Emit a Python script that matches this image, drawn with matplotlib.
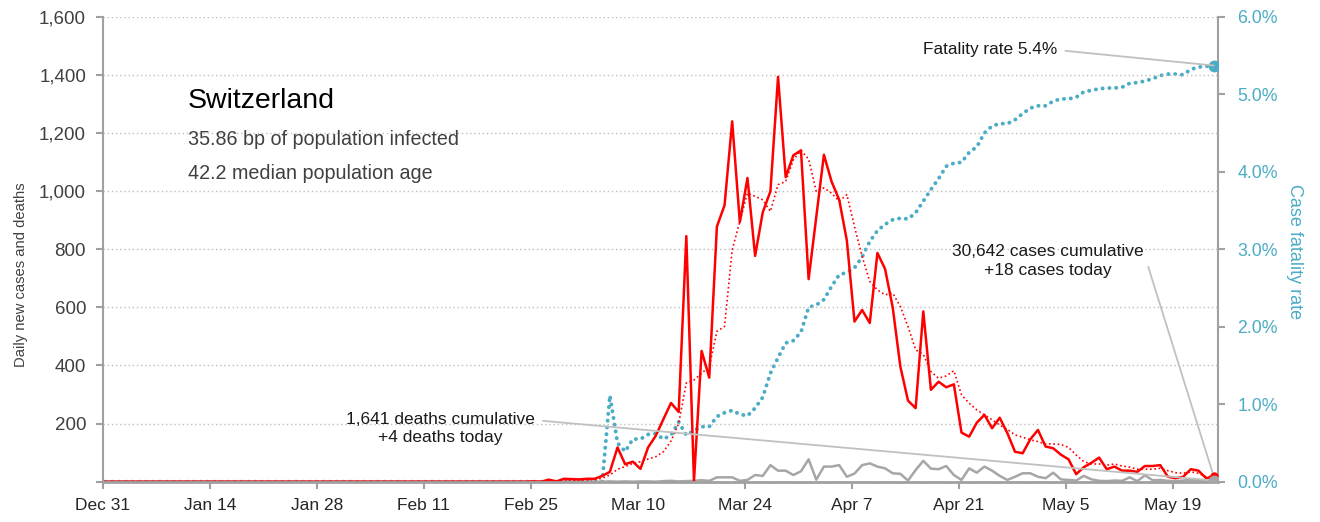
import numpy as np
import matplotlib
matplotlib.use("Agg")
import matplotlib.pyplot as plt
from matplotlib.ticker import FuncFormatter, FixedLocator

plt.rcParams['font.family'] = ['Liberation Sans', 'DejaVu Sans']

# ---------------- data (days counted from Dec 31, 2019) ----------------
pre_outbreak = [0] * 56          # Dec 31 .. Feb 24: flat at zero

cases = [1, 0, 7, 1, 10, 9, 8, 10, 10, 20,
         34, 118, 60, 69, 44, 118, 158, 215, 271, 240,
         845, 2, 450, 358, 878, 951, 1240, 893, 1045, 777,
         927, 999, 1393, 1048, 1123, 1140, 697, 910, 1125, 1033,
         970, 830, 551, 591, 546, 787, 732, 600, 396, 279,
         253, 586, 316, 344, 325, 335, 169, 155, 203, 230,
         184, 220, 167, 103, 98, 146, 178, 121, 115, 93,
         77, 26, 50, 65, 83, 43, 52, 38, 38, 34,
         54, 54, 57, 17, 12, 17, 43, 38, 12, 18]

cases_avg7 = [0, 0, 1, 1, 3, 4, 5, 6, 7, 12,
              23, 43, 52, 63, 69, 78, 86, 103, 140, 200,
              340, 350, 373, 396, 517, 534, 798, 896, 993, 982,
              970, 930, 1022, 1033, 1107, 1140, 1110, 999, 1011, 993,
              965, 988, 878, 775, 689, 660, 643, 649, 603, 534,
              454, 438, 379, 356, 364, 382, 299, 270, 247, 230,
              213, 195, 180, 161, 153, 144, 138, 130, 130, 128,
              118, 92, 69, 61, 61, 57, 61, 54, 50, 43,
              43, 43, 46, 38, 31, 29, 34, 29, 17, 20]

deaths = [0, 0, 0, 0, 0, 0, 0, 0, 0, 0,
          1, 0, 1, 0, 1, 1, 0, 2, 3, 1,
          2, 3, 5, 3, 15, 15, 15, 3, 6, 23,
          20, 57, 38, 38, 23, 36, 77, 7, 52, 52,
          57, 17, 28, 57, 63, 52, 46, 29, 27, 4,
          40, 72, 45, 43, 54, 23, 6, 46, 31, 52,
          38, 20, 6, 17, 29, 29, 17, 12, 31, 8,
          6, 4, 20, 8, 3, 2, 4, 3, 15, 2,
          22, 5, 6, 3, 2, 4, 7, 3, 1, 4]

fatality_pct = [0, 0, 0, 0, 0, 0, 0, 0, 0, 0,
                1.11, 0.50, 0.39, 0.55, 0.55, 0.61, 0.62, 0.55, 0.60, 0.77,
                0.60, 0.66, 0.71, 0.71, 0.84, 0.89, 0.92, 0.87, 0.85, 0.95,
                1.09, 1.40, 1.60, 1.79, 1.82, 1.93, 2.25, 2.28, 2.35, 2.52,
                2.67, 2.70, 2.76, 2.90, 3.10, 3.24, 3.32, 3.38, 3.40, 3.39,
                3.47, 3.62, 3.77, 3.91, 4.07, 4.11, 4.12, 4.25, 4.32, 4.50,
                4.59, 4.62, 4.62, 4.67, 4.75, 4.82, 4.85, 4.85, 4.91, 4.94,
                4.94, 4.96, 5.03, 5.05, 5.07, 5.08, 5.08, 5.09, 5.14, 5.15,
                5.17, 5.20, 5.24, 5.26, 5.26, 5.25, 5.32, 5.35, 5.36, 5.37]

tick_days = [0, 14, 28, 42, 56, 70, 84, 98, 112, 126, 140]
tick_labels = ['Dec 31', 'Jan 14', 'Jan 28', 'Feb 11', 'Feb 25', 'Mar 10',
               'Mar 24', 'Apr 7', 'Apr 21', 'May 5', 'May 19']
left_ticks = [0, 200, 400, 600, 800, 1000, 1200, 1400, 1600]
right_ticks = [0, 1, 2, 3, 4, 5, 6]

title = 'Switzerland'
subtitle1 = '35.86 bp of population infected'
subtitle2 = '42.2 median population age'
note_cfr = 'Fatality rate 5.4%'
note_cases = '30,642 cases cumulative\n+18 cases today'
note_deaths = '1,641 deaths cumulative\n+4 deaths today'

# ---------------- build series ----------------
cases_all = np.array(pre_outbreak + cases, dtype=float)
avg_all = np.array(pre_outbreak + cases_avg7, dtype=float)
deaths_all = np.array(pre_outbreak + deaths, dtype=float)
cfr_all = np.array(pre_outbreak + fatality_pct, dtype=float)
x = np.arange(len(cases_all)) + 0.35

RED = '#FF0000'
BLUE = '#4BACC6'
GREY = '#A6A6A6'
LEADER = '#C0C0C0'
AXC = '#A0A0A0'
TXT = '#404040'
NOTE = '#1A1A1A'

fig = plt.figure(figsize=(13.2, 5.22), dpi=100)
ax = fig.add_axes([0.0778, 0.0772, 0.8449, 0.8908])
ax2 = ax.twinx()
ax.set_zorder(ax2.get_zorder() + 1)
ax.patch.set_visible(False)

# fatality rate (right axis)
ax2.plot(x, cfr_all, color=BLUE, lw=2.8, linestyle=(0, (0.05, 1.7)),
         dash_capstyle='round', solid_capstyle='round')
ax2.plot(x[-1], cfr_all[-1], 'o', color=BLUE, ms=7.5, zorder=5)

# cases & deaths (left axis)
ax.plot(x, deaths_all, color=GREY, lw=1.8)
ax.plot(x, avg_all, color=RED, lw=1.2, linestyle=(0, (1, 1.6)))
ax.plot(x, cases_all, color=RED, lw=1.8)
ax.plot(x[-1], cases_all[-1], 'o', color=RED, ms=5, zorder=5)
ax.plot(x[-1], deaths_all[-1], 'o', color=GREY, ms=7.5, zorder=6)

ax.set_xlim(0, 145.9)
ax.set_ylim(0, 1600)
ax2.set_ylim(0, 6)

ax.xaxis.set_major_locator(FixedLocator(tick_days))
ax.set_xticklabels(tick_labels)
ax.yaxis.set_major_locator(FixedLocator(left_ticks))
ax.yaxis.set_major_formatter(FuncFormatter(lambda v, p: '' if v == 0 else f'{int(v):,}'))
ax2.yaxis.set_major_locator(FixedLocator(right_ticks))
ax2.yaxis.set_major_formatter(FuncFormatter(lambda v, p: f'{v:.1f}%'))

ax.grid(axis='y', color='#BFBFBF', linestyle=(0, (1, 2)), lw=1.0)
ax.set_axisbelow(True)

for a in (ax, ax2):
    a.spines['top'].set_visible(False)
    for s in ('left', 'right', 'bottom'):
        a.spines[s].set_color(AXC)
        a.spines[s].set_linewidth(1.5)
ax.spines['bottom'].set_linewidth(2.0)
ax.spines['right'].set_visible(False)
ax2.spines['left'].set_visible(False)
ax2.spines['bottom'].set_visible(False)

ax.tick_params(axis='x', colors=AXC, labelcolor='#262626', labelsize=12.5, length=5, width=1.5, pad=7)
ax.tick_params(axis='y', colors=AXC, labelcolor=TXT, labelsize=13.5, length=5, width=1.5, pad=7)
ax2.tick_params(axis='y', colors=AXC, labelcolor=BLUE, labelsize=12.8, length=5, width=1.5, pad=9)

ax.set_ylabel('Daily new cases and deaths', fontsize=10.6, color=TXT)
ax.yaxis.set_label_coords(-0.067, 0.445)
ax2.text(1.069, 0.494, 'Case fatality rate', transform=ax2.transAxes, rotation=270,
         ha='center', va='center', fontsize=13, color=BLUE)

ax.text(0.0765, 0.8037, title, transform=ax.transAxes, fontsize=20.5, color='black', va='baseline')
ax.text(0.0765, 0.724, subtitle1, transform=ax.transAxes, fontsize=14.2, color=TXT, va='baseline')
ax.text(0.0765, 0.651, subtitle2, transform=ax.transAxes, fontsize=14.2, color=TXT, va='baseline')

lead = dict(arrowstyle='-', color=LEADER, lw=1.3, shrinkA=4, shrinkB=0)
ax.annotate(note_cfr, xy=(x[-1], cfr_all[-1] / 6 * 1600), xytext=(0.8557, 0.9284),
            textcoords='axes fraction', ha='right', va='center', fontsize=12.4, color=NOTE,
            arrowprops=dict(lead, relpos=(1, 0.5)))
ax.annotate(note_cases, xy=(x[-1], cases_all[-1]), xytext=(0.8476, 0.4746),
            textcoords='axes fraction', ha='center', va='center', fontsize=12.5, color=NOTE,
            multialignment='center', linespacing=1.3,
            arrowprops=dict(lead, relpos=(1, 0.75)))
ax.annotate(note_deaths, xy=(x[-1], deaths_all[-1]), xytext=(0.3025, 0.1144),
            textcoords='axes fraction', ha='center', va='center', fontsize=12.5, color=NOTE,
            multialignment='center', linespacing=1.3,
            arrowprops=dict(lead, relpos=(1, 0.75)))

fig.savefig('out.png', dpi=100)
